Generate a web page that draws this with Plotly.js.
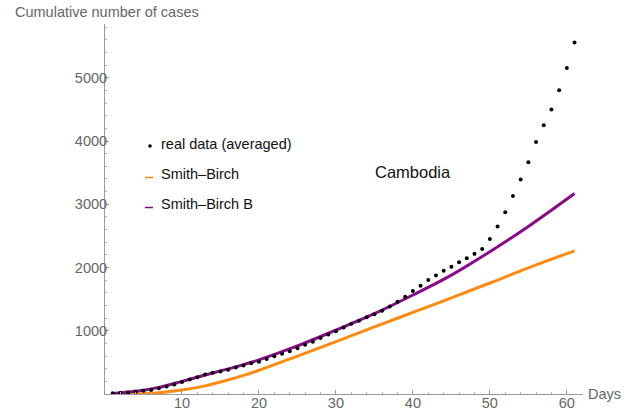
<!DOCTYPE html>
<html>
<head>
<meta charset="utf-8">
<script src="https://cdn.plot.ly/plotly-3.0.1.min.js"></script>
<style>
  html, body { margin: 0; padding: 0; background: #fff; }
  #chart { width: 634px; height: 414px; }
</style>
</head>
<body>
<div id="chart"></div>
<script>
// Cambodia: cumulative reported cases (7-day averaged) and two Smith–Birch fits
const days = [1, 2, 3, 4, 5, 6, 7, 8, 9, 10, 11, 12, 13, 14, 15, 16, 17, 18, 19, 20,
  21, 22, 23, 24, 25, 26, 27, 28, 29, 30, 31, 32, 33, 34, 35, 36, 37, 38, 39, 40,
  41, 42, 43, 44, 45, 46, 47, 48, 49, 50, 51, 52, 53, 54, 55, 56, 57, 58, 59, 60, 61];
const realCases = [10, 15, 25, 37, 52, 65, 90, 120, 152, 188, 228, 265, 310, 335, 355, 385, 420, 450, 485, 510,
  555, 595, 638, 675, 725, 778, 828, 885, 940, 992, 1050, 1110, 1160, 1212, 1259, 1316, 1385, 1458, 1537, 1627,
  1711, 1801, 1875, 1948, 2011, 2085, 2148, 2216, 2291, 2450, 2649, 2875, 3130, 3392, 3665, 3986, 4250, 4497, 4803, 5155, 5556];

const fitDays = [1, 3, 5, 7, 10, 13, 15, 18, 20, 25, 30, 35, 40, 45, 50, 55, 61];
const smithBirch = [0, 1, 5, 18, 62, 128, 190, 295, 375, 600, 828, 1060, 1290, 1520, 1755, 1995, 2264];
const smithBirchB = [5, 30, 60, 105, 200, 300, 365, 465, 540, 760, 1010, 1270, 1565, 1880, 2250, 2650, 3171];

const xTicks = [10, 20, 30, 40, 50, 60];
const yTicks = [1000, 2000, 3000, 4000, 5000];

const FONT = '"Liberation Sans", Arial, sans-serif';
const GRAY_TEXT = '#666666';
const AXIS = '#9a9a9a';
const ORANGE = '#ff8a12';
const PURPLE = '#870a87';

// plot box in pixels, used to place the hand-drawn key and labels
const M = { l: 105, r: 51, t: 24, b: 20 };
const W = 634 - M.l - M.r;
const H = 414 - M.t - M.b;
const px = x => (x - M.l) / W;
const py = y => (414 - M.b - y) / H;

const traces = [
  {
    x: fitDays, y: smithBirch, type: 'scatter', mode: 'lines',
    line: { color: ORANGE, width: 3, shape: 'spline', smoothing: 1 },
    name: 'Smith–Birch', hoverinfo: 'skip'
  },
  {
    x: fitDays, y: smithBirchB, type: 'scatter', mode: 'lines',
    line: { color: PURPLE, width: 3, shape: 'spline', smoothing: 1 },
    name: 'Smith–Birch B', hoverinfo: 'skip'
  },
  {
    x: days, y: realCases, type: 'scatter', mode: 'markers',
    marker: { color: '#000', size: 4 },
    name: 'real data (averaged)', hoverinfo: 'skip'
  }
];

const axisCommon = {
  showline: true, linecolor: AXIS, linewidth: 1,
  ticks: 'inside', ticklen: 4, tickwidth: 1, tickcolor: AXIS,
  showgrid: false, zeroline: false,
  tickfont: { family: FONT, size: 14.5, color: GRAY_TEXT },
  fixedrange: true
};

const layout = {
  width: 634, height: 414,
  margin: M,
  paper_bgcolor: '#fff', plot_bgcolor: '#fff',
  showlegend: false,
  xaxis: Object.assign({}, axisCommon, {
    range: [0, 62.1], tickmode: 'array', tickvals: xTicks, ticklabelstandoff: -4,
    minor: { tickmode: 'linear', tick0: 0, dtick: 2, ticks: 'inside', ticklen: 2, tickcolor: '#b5b5b5', showgrid: false }
  }),
  yaxis: Object.assign({}, axisCommon, {
    range: [0, 5850], tickmode: 'array', tickvals: yTicks, ticklabelstandoff: -6,
    minor: { tickmode: 'linear', tick0: 0, dtick: 200, ticks: 'inside', ticklen: 2, tickcolor: '#b5b5b5', showgrid: false }
  }),
  annotations: [
    { text: 'Cumulative number of cases', xref: 'paper', yref: 'paper', x: px(13), y: py(12),
      xanchor: 'left', yanchor: 'middle', showarrow: false,
      font: { family: FONT, size: 14.5, color: GRAY_TEXT } },
    { text: 'Days', xref: 'paper', yref: 'paper', x: px(586), y: py(394),
      xanchor: 'left', yanchor: 'middle', showarrow: false,
      font: { family: FONT, size: 14.5, color: GRAY_TEXT } },
    { text: 'Cambodia', xref: 'paper', yref: 'paper', x: px(413), y: py(172),
      xanchor: 'center', yanchor: 'middle', showarrow: false,
      font: { family: FONT, size: 16.5, color: '#111' } },
    { text: 'real data (averaged)', xref: 'paper', yref: 'paper', x: px(159), y: py(144),
      xanchor: 'left', yanchor: 'middle', showarrow: false,
      font: { family: FONT, size: 14.5, color: '#111' } },
    { text: 'Smith–Birch', xref: 'paper', yref: 'paper', x: px(159), y: py(174),
      xanchor: 'left', yanchor: 'middle', showarrow: false,
      font: { family: FONT, size: 14.5, color: '#111' } },
    { text: 'Smith–Birch B', xref: 'paper', yref: 'paper', x: px(159), y: py(204),
      xanchor: 'left', yanchor: 'middle', showarrow: false,
      font: { family: FONT, size: 14.5, color: '#111' } }
  ],
  shapes: [
    { type: 'circle', xref: 'paper', yref: 'paper',
      x0: px(148.2), x1: px(151.8), y0: py(147.8), y1: py(144.2),
      fillcolor: '#000', line: { width: 0 } },
    { type: 'line', xref: 'paper', yref: 'paper',
      x0: px(145), x1: px(153), y0: py(177.5), y1: py(177.5),
      line: { color: ORANGE, width: 1.5 } },
    { type: 'line', xref: 'paper', yref: 'paper',
      x0: px(145), x1: px(153), y0: py(207.5), y1: py(207.5),
      line: { color: PURPLE, width: 1.5 } }
  ]
};

Plotly.newPlot('chart', traces, layout, { displayModeBar: false, staticPlot: true });
</script>
</body>
</html>
